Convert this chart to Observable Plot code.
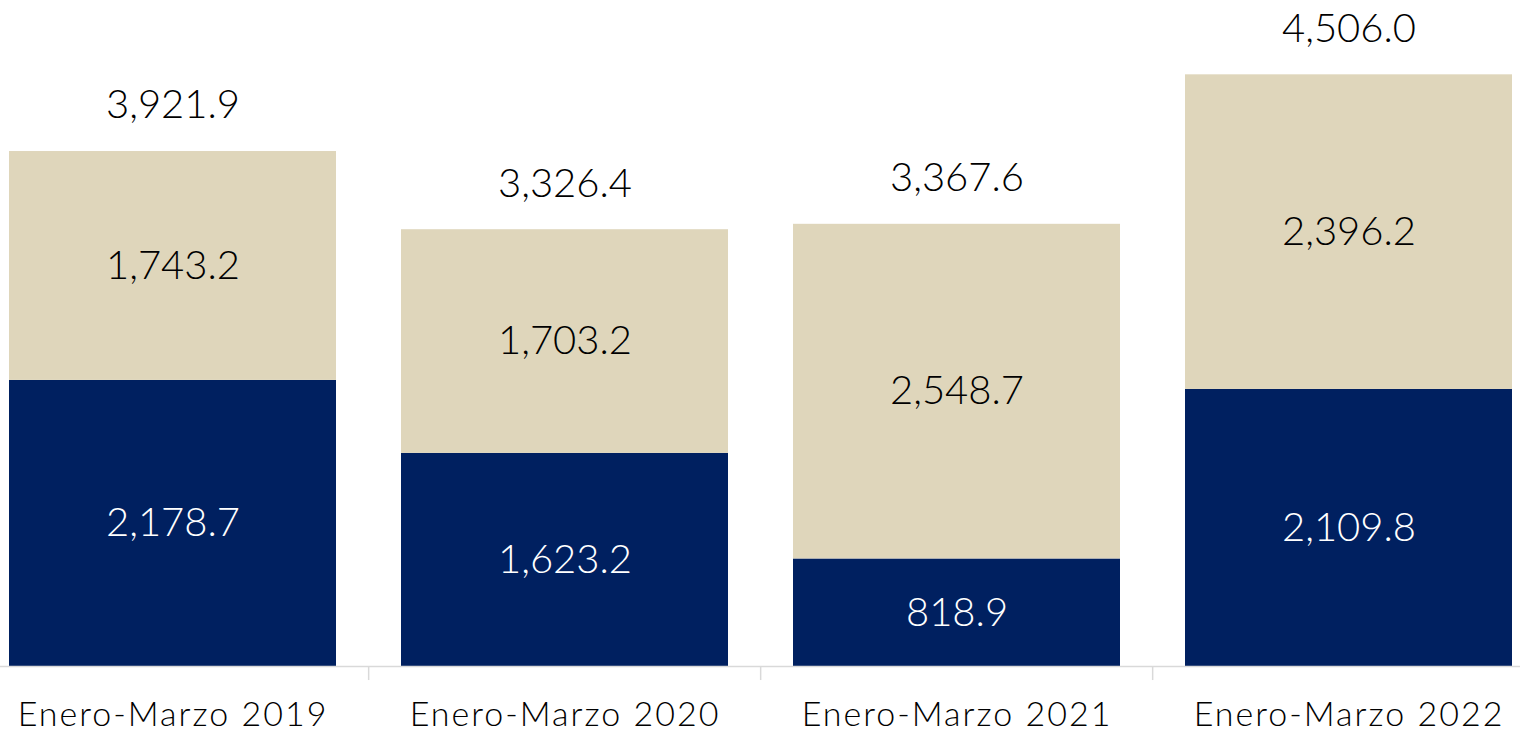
<!DOCTYPE html>
<html>
<head>
<meta charset="utf-8">
<script src="https://cdn.jsdelivr.net/npm/d3@7"></script>
<script src="https://cdn.jsdelivr.net/npm/@observablehq/plot@0.6"></script>
<style>
  html, body { margin: 0; padding: 0; background: #ffffff; overflow: hidden; }
  #chart svg { display: block; font-family: Lato, "Noto Sans", sans-serif; font-weight: 300; }
</style>
</head>
<body>
<div id="chart"></div>
<script>
const periods = ["Enero-Marzo 2019", "Enero-Marzo 2020", "Enero-Marzo 2021", "Enero-Marzo 2022"];
const seriesNames = ["Serie inferior", "Serie superior"];
const bottomValues = [2178.7, 1623.2, 818.9, 2109.8];
const topValues = [1743.2, 1703.2, 2548.7, 2396.2];
const totalValues = [3921.9, 3326.4, 3367.6, 4506.0];
const colors = ["#002060", "#DFD6BB"];
const textColors = ["#ffffff", "#000000"];

const rows = [];
periods.forEach((p, i) => {
  rows.push({period: p, series: seriesNames[0], value: bottomValues[i]});
  rows.push({period: p, series: seriesNames[1], value: topValues[i]});
});
const totals = periods.map((p, i) => ({period: p, total: totalValues[i]}));
const fmt = d3.format(",.1f");

const W = 1520, H = 735;
const mLeft = -24.6, mRight = -26.2;
const step = (W - mLeft - mRight) / periods.length;

const chart = Plot.plot({
  width: W,
  height: H,
  marginTop: 0,
  marginBottom: 69,
  marginLeft: mLeft,
  marginRight: mRight,
  style: {background: "transparent", fontFamily: "Lato, 'Noto Sans', sans-serif"},
  x: {domain: periods, paddingInner: 0.166, paddingOuter: 0.083, label: null},
  y: {domain: [0, 5072], axis: null},
  color: {domain: seriesNames, range: colors},
  marks: [
    Plot.barY(rows, {x: "period", y: "value", fill: "series", order: seriesNames}),
    Plot.ruleY([0], {stroke: "#d9d9d9", strokeWidth: 1.5}),
    Plot.ruleX(periods.slice(1), {x: d => d, y1: 0, y2: -107, dx: -step / 2, stroke: "#d9d9d9", strokeWidth: 1.5}),
    Plot.text(rows, Plot.stackY({
      x: "period", y: "value", z: "series", order: seriesNames,
      text: d => fmt(d.value),
      fill: d => textColors[seriesNames.indexOf(d.series)],
      fontSize: 40, fontWeight: 300
    })),
    Plot.text(totals, {x: "period", y: "total", text: d => fmt(d.total), dy: -46, fill: "#000000", fontSize: 40, fontWeight: 300}),
    Plot.axisX({tickSize: 0, tickPadding: 35, fontSize: 34, fontWeight: 300, fill: "#000000", label: null})
  ]
});
chart.querySelectorAll("g[aria-label='x-axis tick label']").forEach(e => {
  e.setAttribute("font-weight", "300");
  e.setAttribute("letter-spacing", "2px");
});
document.getElementById("chart").appendChild(chart);
</script>
</body>
</html>
